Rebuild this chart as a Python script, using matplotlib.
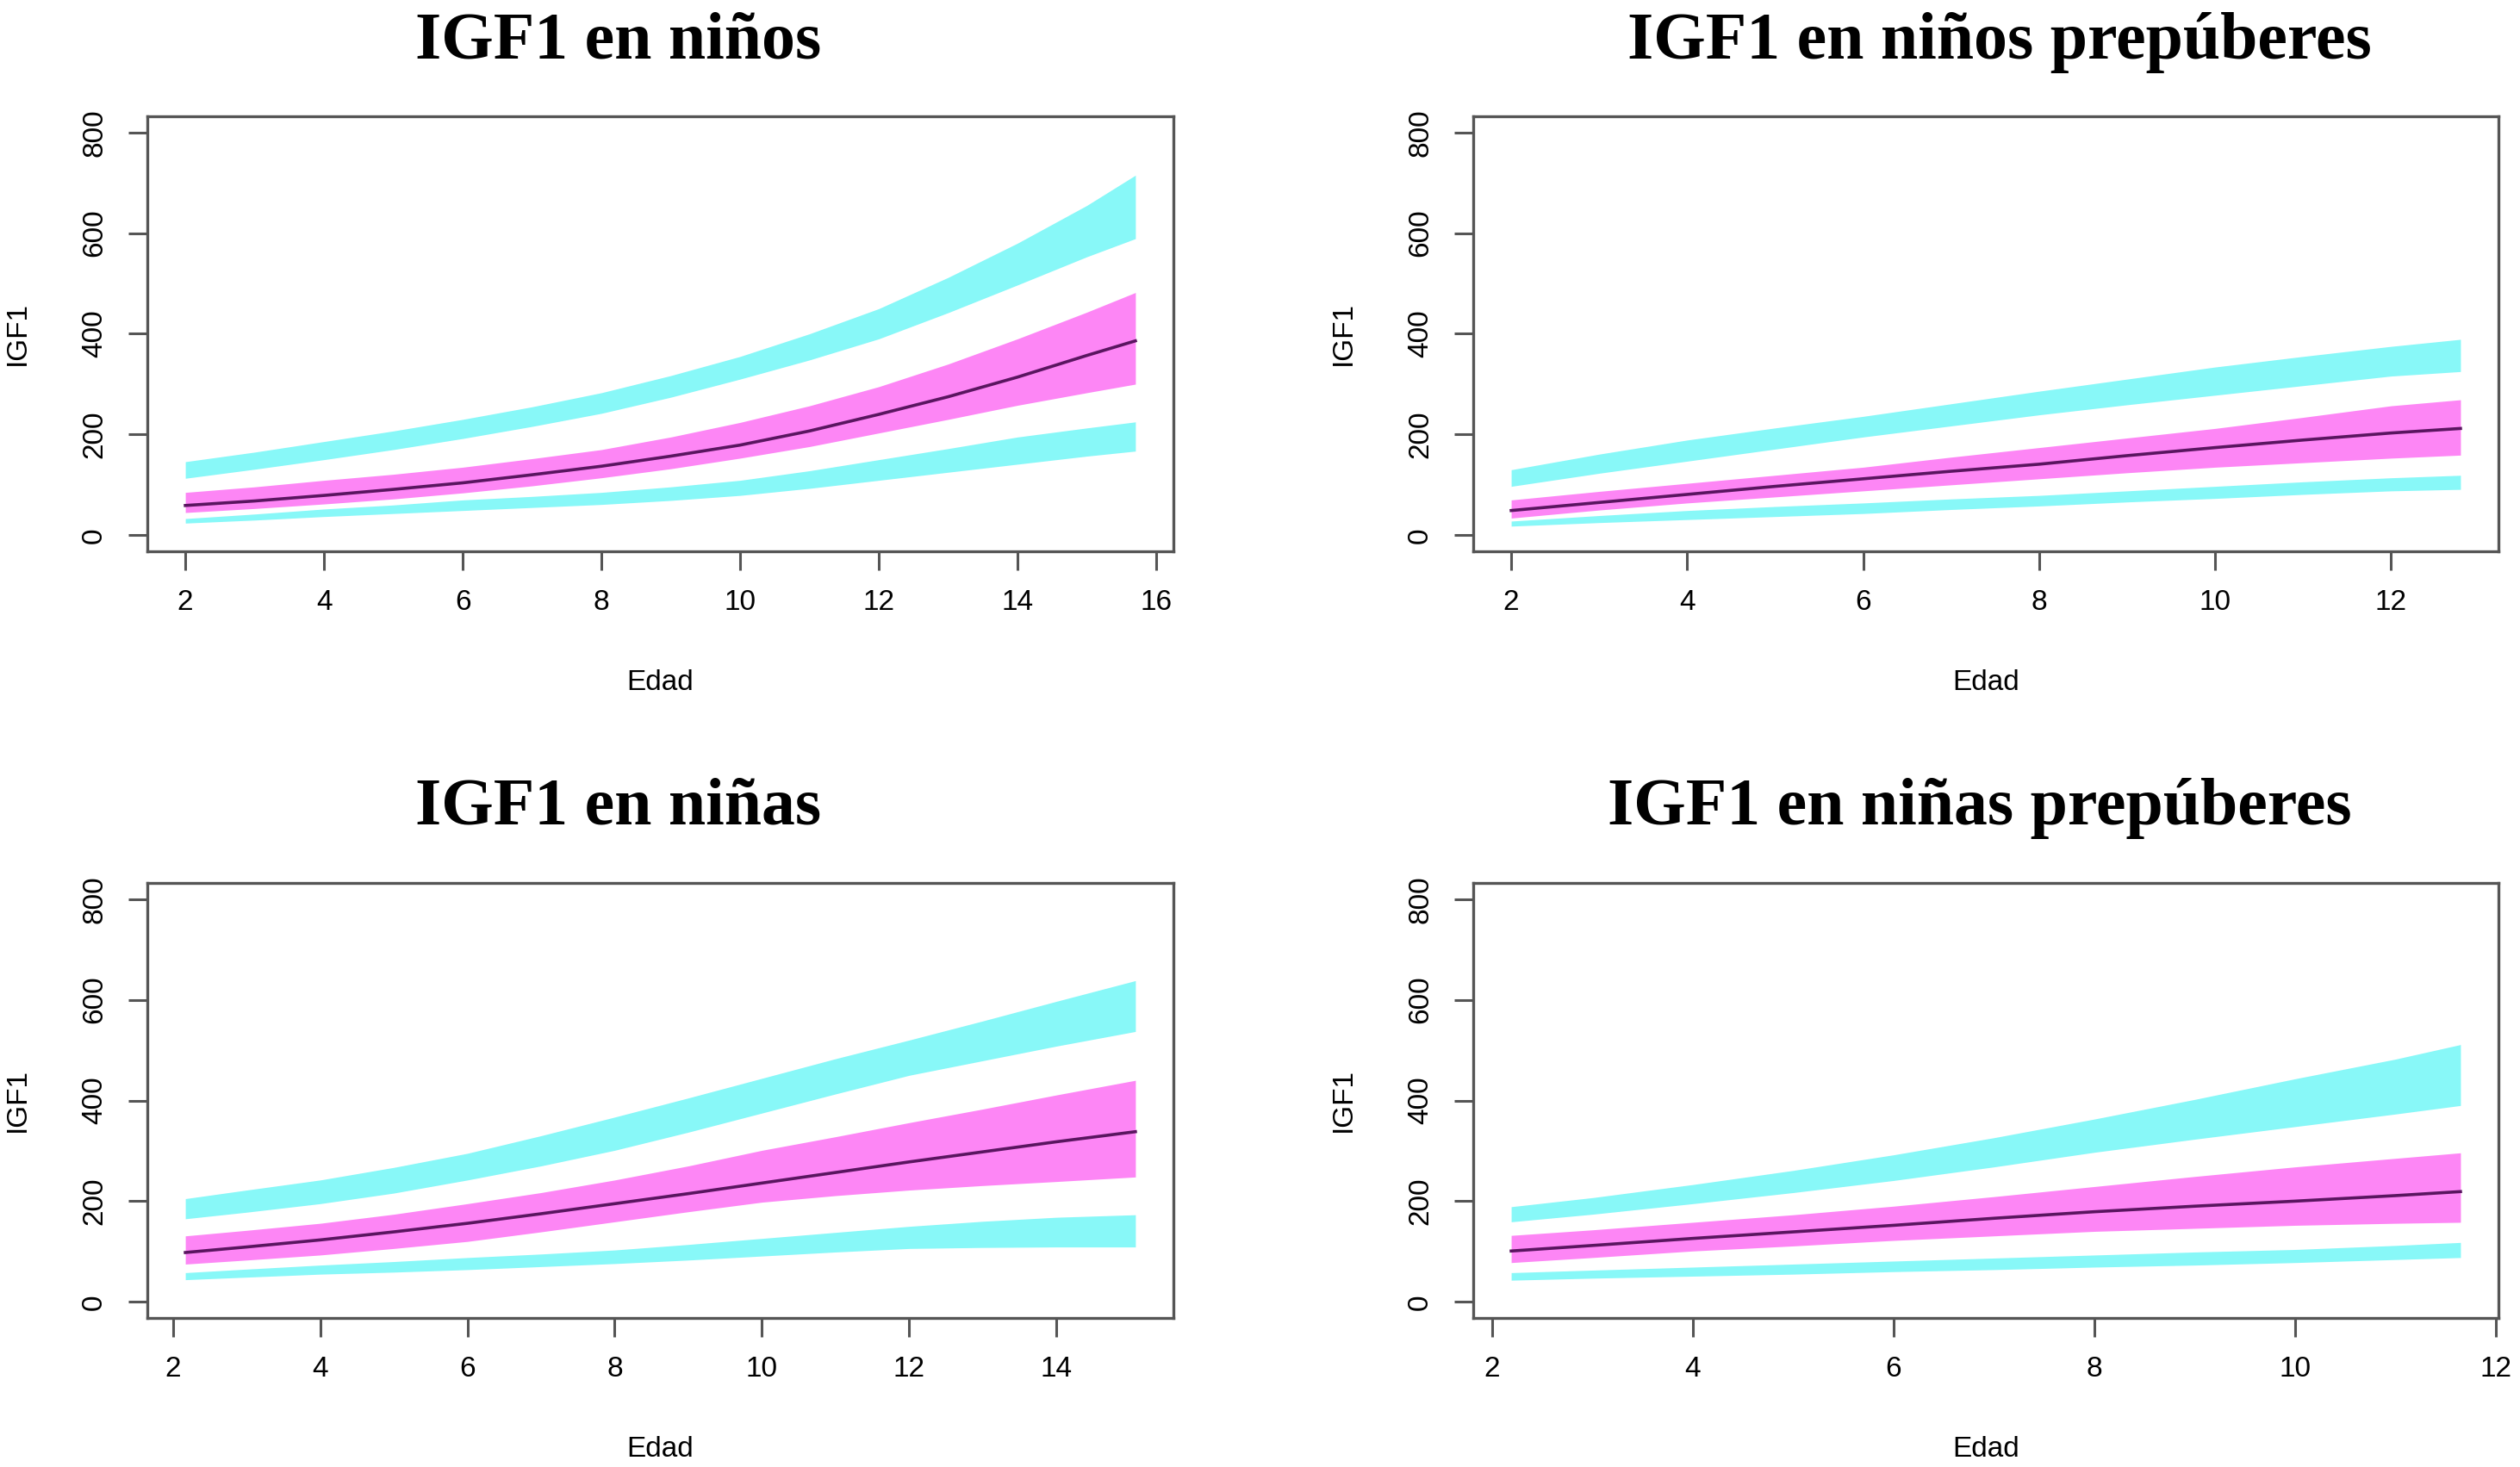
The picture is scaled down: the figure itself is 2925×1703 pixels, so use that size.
import numpy as np
import matplotlib.pyplot as plt

# IGF1 percentile bands (Edad in years)
ninos_edad = [2, 3, 4, 5, 6, 7, 8, 9, 10, 11, 12, 13, 14, 15, 15.7]
ninos_sup_hi = [146, 165, 186, 207, 230, 255, 283, 317, 355, 400, 450, 512, 580, 655, 715]
ninos_sup_lo = [113, 131, 150, 170, 192, 216, 242, 274, 310, 348, 390, 442, 497, 553, 589]
ninos_med_hi = [85, 96, 109, 121, 135, 152, 170, 195, 224, 257, 295, 340, 390, 443, 482]
ninos_mediana = [59, 68, 79, 91, 104, 120, 137, 157, 179, 207, 240, 275, 314, 357, 386]
ninos_med_lo = [45, 53, 62, 72, 84, 98, 114, 132, 153, 176, 203, 230, 258, 283, 300]
ninos_inf_hi = [33, 42, 52, 60, 70, 77, 85, 96, 109, 128, 150, 172, 195, 213, 225]
ninos_inf_lo = [24, 30, 37, 43, 49, 55, 61, 69, 79, 93, 109, 125, 141, 157, 167]

ninos_pre_edad = [2, 3, 4, 5, 6, 7, 8, 9, 10, 11, 12, 12.79]
ninos_pre_sup_hi = [130, 161, 189, 213, 236, 261, 286, 310, 334, 355, 375, 389]
ninos_pre_sup_lo = [97, 123, 147, 171, 195, 217, 239, 259, 278, 297, 316, 325]
ninos_pre_med_hi = [70, 87, 103, 119, 135, 155, 174, 193, 212, 234, 257, 269]
ninos_pre_mediana = [49, 65, 81, 97, 112, 127, 141, 158, 174, 189, 203, 212]
ninos_pre_med_lo = [34, 50, 64, 76, 88, 100, 112, 124, 135, 144, 153, 159]
ninos_pre_inf_hi = [28, 39, 49, 57, 64, 72, 79, 88, 97, 106, 114, 119]
ninos_pre_inf_lo = [18, 25, 31, 37, 43, 51, 58, 66, 73, 81, 88, 91]

ninas_edad = [2.17, 3, 4, 5, 6, 7, 8, 9, 10, 11, 12, 13, 14, 15.07]
ninas_sup_hi = [205, 222, 242, 267, 295, 330, 367, 405, 444, 483, 520, 558, 597, 638]
ninas_sup_lo = [165, 178, 195, 216, 242, 270, 301, 337, 375, 413, 450, 479, 508, 537]
ninas_med_hi = [131, 142, 156, 174, 195, 217, 242, 270, 301, 328, 356, 383, 411, 440]
ninas_mediana = [98, 109, 123, 139, 156, 175, 195, 215, 236, 257, 278, 298, 318, 338]
ninas_med_lo = [75, 83, 93, 106, 120, 139, 159, 179, 198, 211, 222, 231, 239, 248]
ninas_inf_hi = [58, 65, 73, 80, 88, 95, 103, 114, 126, 138, 150, 160, 168, 173]
ninas_inf_lo = [44, 49, 55, 59, 64, 70, 76, 83, 91, 99, 106, 108, 109, 109]

ninas_pre_edad = [2.19, 3, 4, 5, 6, 7, 8, 9, 10, 11, 11.65]
ninas_pre_sup_hi = [189, 207, 233, 261, 292, 326, 363, 402, 443, 482, 511]
ninas_pre_sup_lo = [159, 174, 195, 217, 241, 268, 297, 323, 348, 373, 390]
ninas_pre_med_hi = [132, 143, 158, 173, 190, 209, 229, 249, 268, 285, 296]
ninas_pre_mediana = [101, 112, 126, 139, 152, 166, 179, 190, 200, 211, 219]
ninas_pre_med_lo = [78, 88, 101, 111, 122, 131, 140, 146, 152, 156, 158]
ninas_pre_inf_hi = [58, 63, 69, 75, 81, 87, 93, 99, 104, 112, 118]
ninas_pre_inf_lo = [43, 47, 51, 55, 60, 64, 69, 73, 78, 84, 88]

titulos = ["IGF1 en niños", "IGF1 en niños prepúberes",
           "IGF1 en niñas", "IGF1 en niñas prepúberes"]
y_ticks = [0, 200, 400, 600, 800]

CIAN = '#88F8F8'
MAGENTA = '#FD86F5'
LINEA = '#5A1560'
BORDE = '#555555'

W, H = 2925, 1703
fig = plt.figure(figsize=(W / 100, H / 100), dpi=100)
plt.rcParams['font.family'] = ['Liberation Sans', 'DejaVu Sans']

# axes boxes in pixels: left, top, right, bottom
cajas = [(171, 135, 1362, 640), (1710, 135, 2900, 640),
         (171, 1025, 1362, 1530), (1710, 1025, 2900, 1530)]
titulo_pos = [(718, 68), (2321, 68), (718, 957), (2298, 957)]

paneles = [
    (ninos_edad, ninos_sup_hi, ninos_sup_lo, ninos_med_hi, ninos_mediana, ninos_med_lo, ninos_inf_hi, ninos_inf_lo),
    (ninos_pre_edad, ninos_pre_sup_hi, ninos_pre_sup_lo, ninos_pre_med_hi, ninos_pre_mediana, ninos_pre_med_lo, ninos_pre_inf_hi, ninos_pre_inf_lo),
    (ninas_edad, ninas_sup_hi, ninas_sup_lo, ninas_med_hi, ninas_mediana, ninas_med_lo, ninas_inf_hi, ninas_inf_lo),
    (ninas_pre_edad, ninas_pre_sup_hi, ninas_pre_sup_lo, ninas_pre_med_hi, ninas_pre_mediana, ninas_pre_med_lo, ninas_pre_inf_hi, ninas_pre_inf_lo),
]

for i, (edad, sh, sl, mh, md, ml, ih, il) in enumerate(paneles):
    l, t, r, b = cajas[i]
    ax = fig.add_axes([l / W, 1 - b / H, (r - l) / W, (b - t) / H])
    ax.fill_between(edad, sl, sh, color=CIAN, lw=0)
    ax.fill_between(edad, ml, mh, color=MAGENTA, lw=0)
    ax.fill_between(edad, il, ih, color=CIAN, lw=0)
    ax.plot(edad, md, color=LINEA, lw=2.6, solid_joinstyle='round')

    rango = edad[-1] - edad[0]
    ax.set_xlim(edad[0] - 0.04 * rango, edad[-1] + 0.04 * rango)
    ax.set_ylim(-32, 832)
    x_ticks = np.arange(2, int(edad[-1] + 0.04 * rango) + 1, 2)
    ax.set_xticks(x_ticks)
    ax.set_yticks(y_ticks)

    for s in ax.spines.values():
        s.set_color(BORDE)
        s.set_linewidth(2.4)
    ax.tick_params(length=16, width=2.2, color=BORDE, labelsize=24)
    ax.tick_params(axis='x', pad=16)
    ax.tick_params(axis='y', pad=17, labelrotation=90)
    for lab in ax.get_yticklabels():
        lab.set_va('center')

    ax.set_xlabel("Edad", fontsize=24, labelpad=44)
    ax.set_ylabel("IGF1", fontsize=24, labelpad=42)

    tx, ty = titulo_pos[i]
    fig.text(tx / W, 1 - ty / H, titulos[i], ha='center', va='baseline',
             fontsize=56, fontweight='bold',
             family=['Liberation Serif', 'DejaVu Serif'])

fig.savefig("out.png", dpi=100)
